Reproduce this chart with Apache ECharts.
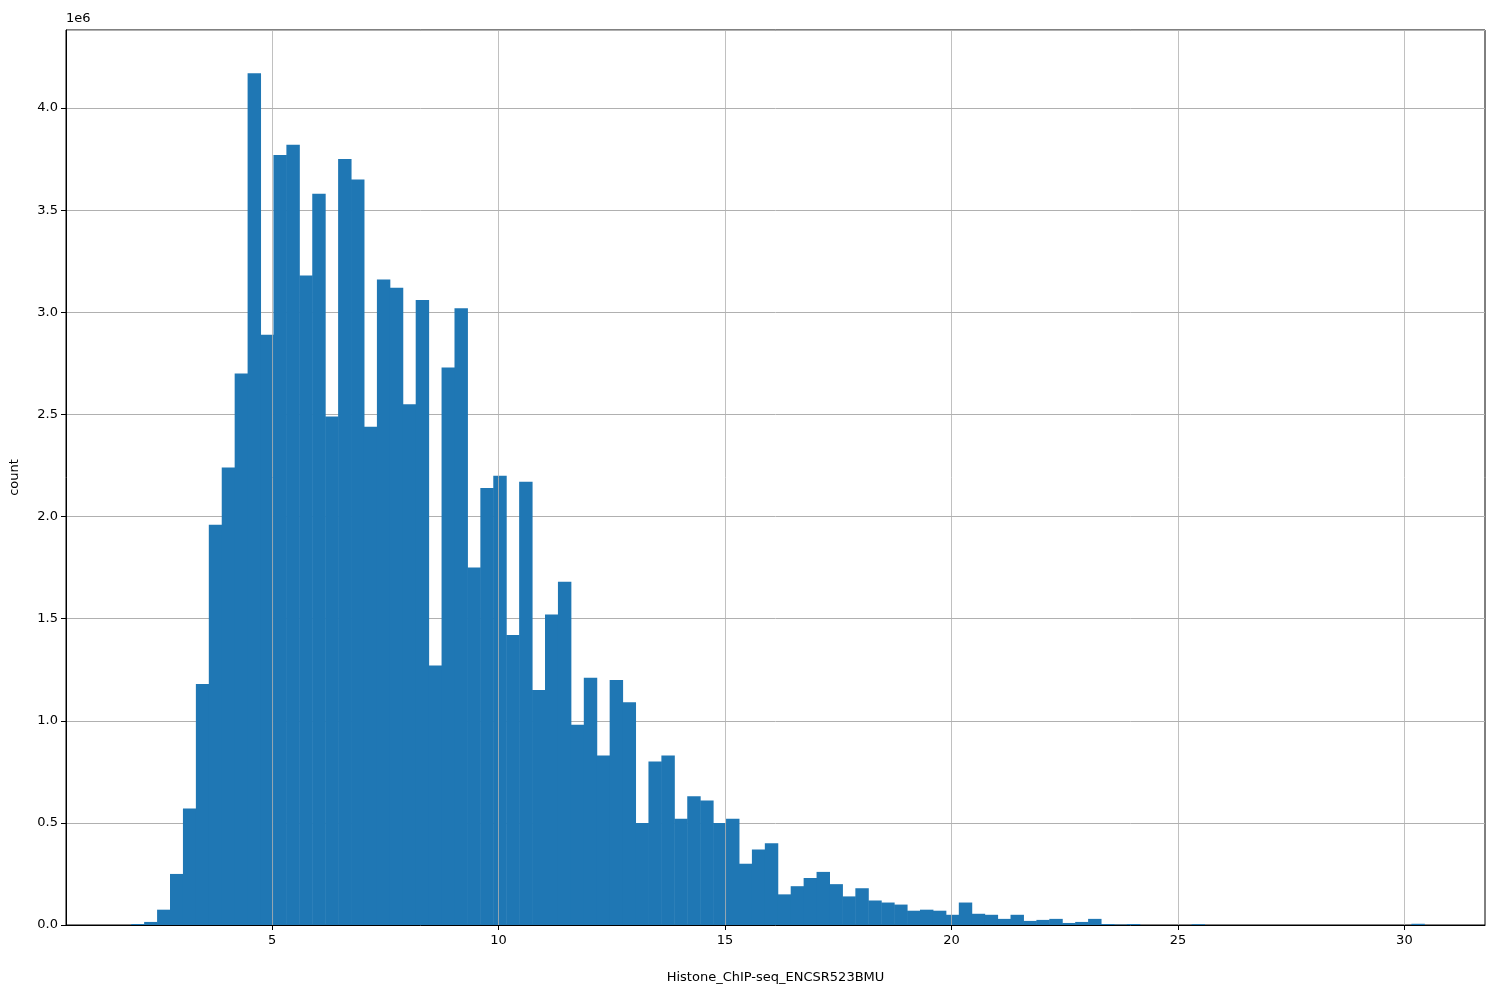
<!DOCTYPE html>
<html lang="en">
<head>
<meta charset="UTF-8">
<script src="https://cdn.jsdelivr.net/npm/echarts@6/dist/echarts.min.js"></script>
<title>Histogram</title>
</head>
<body style="margin:0">
<div id="hist" style="width:1500px;height:1000px;"></div>
<script type="text/javascript">
// histogram bins: first edge and bin width (x units), counts per bin
var binStart = 1.89;
var binWidth = 0.2855;
var counts = [
  0.005, 0.015, 0.075, 0.25, 0.57, 1.18, 1.96, 2.24, 2.70, 4.17,
  2.89, 3.77, 3.82, 3.18, 3.58, 2.49, 3.75, 3.65, 2.44, 3.16,
  3.12, 2.55, 3.06, 1.27, 2.73, 3.02, 1.75, 2.14, 2.20, 1.42,
  2.17, 1.15, 1.52, 1.68, 0.98, 1.21, 0.83, 1.20, 1.09, 0.50,
  0.80, 0.83, 0.52, 0.63, 0.61, 0.50, 0.52, 0.30, 0.37, 0.40,
  0.15, 0.19, 0.23, 0.26, 0.20, 0.14, 0.18, 0.12, 0.11, 0.10,
  0.07, 0.075, 0.07, 0.05, 0.11, 0.055, 0.05, 0.03, 0.05, 0.02,
  0.025, 0.03, 0.01, 0.015, 0.03, 0.005, 0.002, 0.005, 0, 0,
  0, 0, 0.004, 0, 0, 0, 0, 0, 0, 0,
  0, 0, 0, 0, 0, 0, 0, 0, 0, 0.006
].map(function (v) { return v * 1e6; });
var xTicks = [5, 10, 15, 20, 25, 30];

var chart = echarts.init(document.getElementById('hist'));
var data = counts.map(function (c, i) {
  return [binStart + i * binWidth, binStart + (i + 1) * binWidth, c];
});

chart.setOption({
  animation: false,
  textStyle: {fontFamily: 'DejaVu Sans'},
  grid: {left: 66, right: 15, top: 30, bottom: 75, show: true, borderColor: '#000', borderWidth: 1},
  graphic: [{type: 'text', left: 66, top: 12, style: {text: '1e6', fontSize: 13, fill: '#000', fontFamily: 'DejaVu Sans'}}],
  xAxis: {
    type: 'value', min: 0.45, max: 31.78,
    name: 'Histone_ChIP-seq_ENCSR523BMU', nameLocation: 'middle', nameGap: 46,
    nameTextStyle: {fontSize: 13, color: '#000'},
    axisLine: {lineStyle: {color: '#000'}},
    axisTick: {customValues: xTicks, length: 5, lineStyle: {color: '#000'}},
    axisLabel: {customValues: xTicks, color: '#000', fontSize: 13, margin: 9},
    splitLine: {show: false}
  },
  yAxis: {
    type: 'value', min: 0, max: 4.382e6, interval: 0.5e6,
    name: 'count', nameLocation: 'middle', nameGap: 45,
    nameTextStyle: {fontSize: 13, color: '#000'},
    axisLine: {show: true, lineStyle: {color: '#000'}},
    axisTick: {show: true, length: 5, lineStyle: {color: '#000'}},
    axisLabel: {color: '#000', fontSize: 13, showMaxLabel: false,
      formatter: function (v) { return (v / 1e6).toFixed(1); }},
    splitLine: {lineStyle: {color: '#b0b0b0', width: 1}}
  },
  series: [{
    type: 'custom',
    data: data,
    z: 2,
    renderItem: function (params, api) {
      if (api.value(2) <= 0) return null;
      var p0 = api.coord([api.value(0), api.value(2)]);
      var p1 = api.coord([api.value(1), 0]);
      return {type: 'rect', shape: {x: p0[0], y: p0[1], width: p1[0] - p0[0] + 0.5, height: p1[1] - p0[1]},
        style: {fill: '#1f77b4'}};
    },
    markLine: {
      silent: true, symbol: 'none', z: 3,
      label: {show: false},
      lineStyle: {color: '#b0b0b0', width: 1, type: 'solid', opacity: 0.8},
      data: xTicks.map(function (t) { return {xAxis: t}; })
    }
  }]
});
</script>
</body>
</html>
